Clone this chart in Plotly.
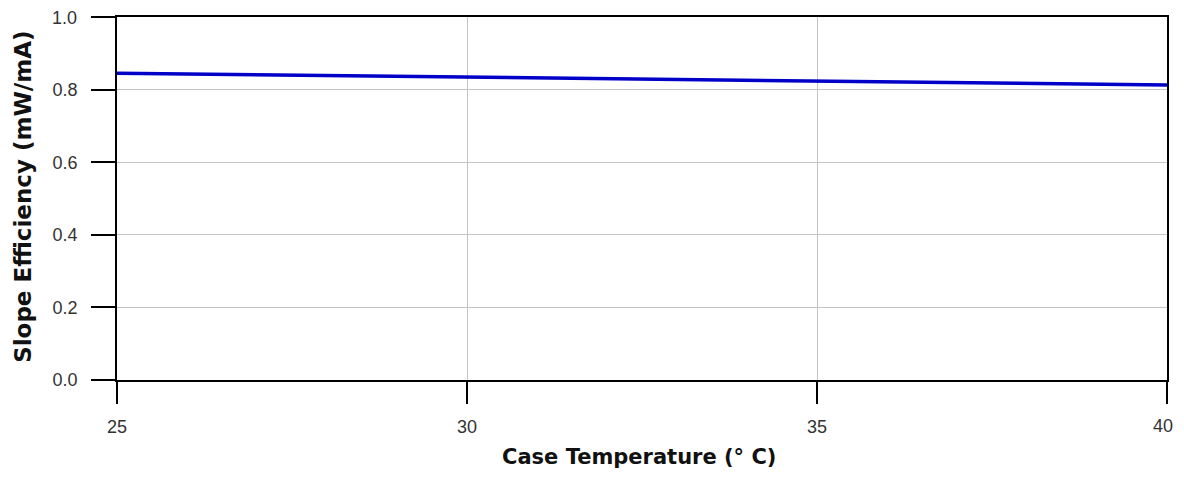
import plotly.graph_objects as go

temperature_c = [25, 27.5, 30, 32.5, 35, 37.5, 40]
slope_eff = [0.845, 0.840, 0.835, 0.829, 0.824, 0.818, 0.813]

x_ticks = [25, 30, 35, 40]
y_ticks = [0.0, 0.2, 0.4, 0.6, 0.8, 1.0]
x_labels = [str(v) for v in x_ticks]
y_labels = [f"{v:.1f}" for v in y_ticks]

x_title = "Case Temperature (° C)"
y_title = "Slope Efficiency (mW/mA)"

fig = go.Figure()
fig.add_trace(go.Scatter(
    x=temperature_c, y=slope_eff, mode="lines",
    line=dict(color="#0000c8", width=3.5), showlegend=False,
))

tick_font = dict(family="Liberation Sans, Arial, sans-serif", size=18, color="#333333")

# edge labels (last x label, top y label) drawn as annotations so they are not hidden at the page edge
x_tick_text = x_labels[:-1] + [""]
y_tick_text = y_labels[:-1] + [""]

fig.update_layout(
    width=1168, height=463,
    margin=dict(l=109, r=7, t=9, b=91),
    paper_bgcolor="white", plot_bgcolor="white",
    font=dict(family="Liberation Sans, Arial, sans-serif", size=12, color="#333333"),
    xaxis=dict(
        range=[25, 40], tickvals=x_ticks, ticktext=x_tick_text,
        showgrid=True, gridcolor="#c4c4c4", gridwidth=1,
        showline=True, linecolor="black", linewidth=1.5, mirror=True,
        ticks="outside", ticklen=22, tickcolor="black", tickwidth=1.5,
        ticklabelstandoff=8,
        zeroline=False, tickfont=tick_font,
    ),
    yaxis=dict(
        range=[0, 1.0], tickvals=y_ticks, ticktext=y_tick_text,
        showgrid=True, gridcolor="#c4c4c4", gridwidth=1,
        showline=True, linecolor="black", linewidth=1.5, mirror=True,
        ticks="outside", ticklen=24, tickcolor="black", tickwidth=1.5,
        ticklabelstandoff=10,
        zeroline=False, tickfont=tick_font,
    ),
    annotations=[
        dict(text=x_labels[-1], xref="x", yref="paper", x=x_ticks[-1], y=-0.126,
             xanchor="center", yanchor="middle", xshift=-4, showarrow=False,
             font=tick_font),
        dict(text=y_labels[-1], xref="paper", yref="y", x=0, y=y_ticks[-1],
             xanchor="right", yanchor="middle", xshift=-38, yshift=-1, showarrow=False,
             font=tick_font),
        dict(text=f"<b>{x_title}</b>", xref="paper", yref="paper",
             x=0.497, y=-0.212, xanchor="center", yanchor="middle", showarrow=False,
             borderpad=0,
             font=dict(family="DejaVu Sans, Verdana, sans-serif", size=21, color="#111111")),
        dict(text=f"<b>{y_title}</b>", xref="paper", yref="paper",
             x=-0.0903, y=0.505, xanchor="center", yanchor="middle", showarrow=False,
             textangle=-90,
             font=dict(family="DejaVu Sans, Verdana, sans-serif", size=23, color="#111111")),
    ],
)

fig.write_html("out.html", config={"displayModeBar": False})
